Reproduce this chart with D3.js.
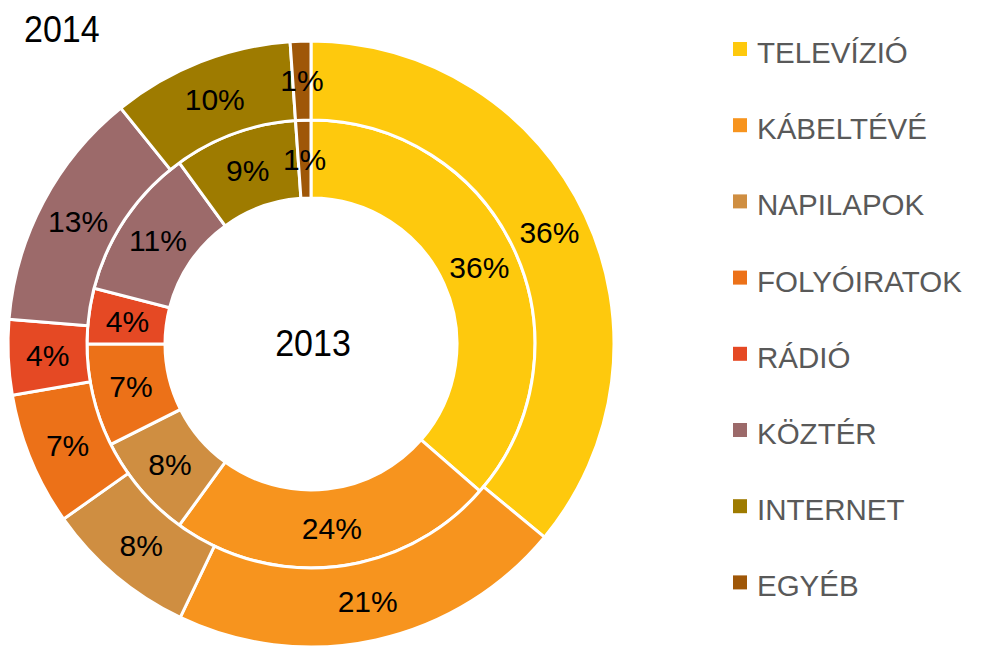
<!DOCTYPE html>
<html>
<head>
<meta charset="utf-8">
<script src="https://cdn.jsdelivr.net/npm/d3@7"></script>
<style>
	body { margin: 0; background: #ffffff; }
	text { font-family: "Liberation Sans", Arial, sans-serif; }
</style>
</head>
<body>
<script>
// adatok (százalék)
var categories = ["TELEVÍZIÓ", "KÁBELTÉVÉ", "NAPILAPOK", "FOLYÓIRATOK", "RÁDIÓ", "KÖZTÉR", "INTERNET", "EGYÉB"];
var share2013 = [36.4, 23.6, 7.6, 7.4, 4.0, 11.0, 8.9, 1.1];
var share2014 = [36.0, 21.1, 8.1, 7.1, 4.0, 12.9, 9.7, 1.1];
var colors = ["#fec90d", "#f7941e", "#cf8e41", "#ec7118", "#e54924", "#9c6a6a", "#9e7b00", "#9f5708"];

var width = 997;
var height = 649;
var cx = 311, cy = 344;

var svg = d3.select("body").append("svg")
	.attr("width", width)
	.attr("height", height);

var color = d3.scaleOrdinal().domain(categories).range(colors);

var pie = d3.pie().sort(null);

var rings = [
	{ year: "2013", values: share2013, inner: 146, outer: 224 },
	{ year: "2014", values: share2014, inner: 224, outer: 303 }
];

var chart = svg.append("g")
	.attr("transform", "translate(" + cx + "," + cy + ")");

rings.forEach(function(ring) {
	var arc = d3.arc().innerRadius(ring.inner).outerRadius(ring.outer);
	var g = chart.append("g").attr("class", "ring-" + ring.year);
	var arcs = pie(ring.values);

	g.selectAll("path")
		.data(arcs)
		.enter().append("path")
		.attr("d", arc)
		.attr("fill", (d, i) => color(categories[i]))
		.attr("stroke", "#ffffff")
		.attr("stroke-width", 3);

	g.selectAll("text")
		.data(arcs)
		.enter().append("text")
		.attr("transform", d => "translate(" + arc.centroid(d) + ")")
		.attr("text-anchor", "middle")
		.attr("dy", "0.36em")
		.attr("font-size", 30)
		.attr("fill", "#000000")
		.text(d => Math.round(d.data) + "%");
});

// évszámok
svg.append("text")
	.attr("transform", "translate(" + (cx + 2) + ",356) scale(1,1.1)")
	.attr("text-anchor", "middle")
	.attr("font-size", 34)
	.attr("fill", "#000000")
	.text("2013");

svg.append("text")
	.attr("transform", "translate(24,42) scale(1,1.1)")
	.attr("font-size", 34)
	.attr("fill", "#000000")
	.text("2014");

// jelmagyarázat
var legend = svg.append("g")
	.attr("transform", "translate(733,63)");

var rows = legend.selectAll("g")
	.data(categories)
	.enter().append("g")
	.attr("transform", (d, i) => "translate(0," + (i * 76.2) + ")");

rows.append("rect")
	.attr("x", 0)
	.attr("y", -21)
	.attr("width", 14)
	.attr("height", 14)
	.attr("fill", d => color(d));

rows.append("text")
	.attr("x", 24)
	.attr("y", 0)
	.attr("font-size", 29.5)
	.attr("fill", "#595959")
	.text(d => d);
</script>
</body>
</html>
